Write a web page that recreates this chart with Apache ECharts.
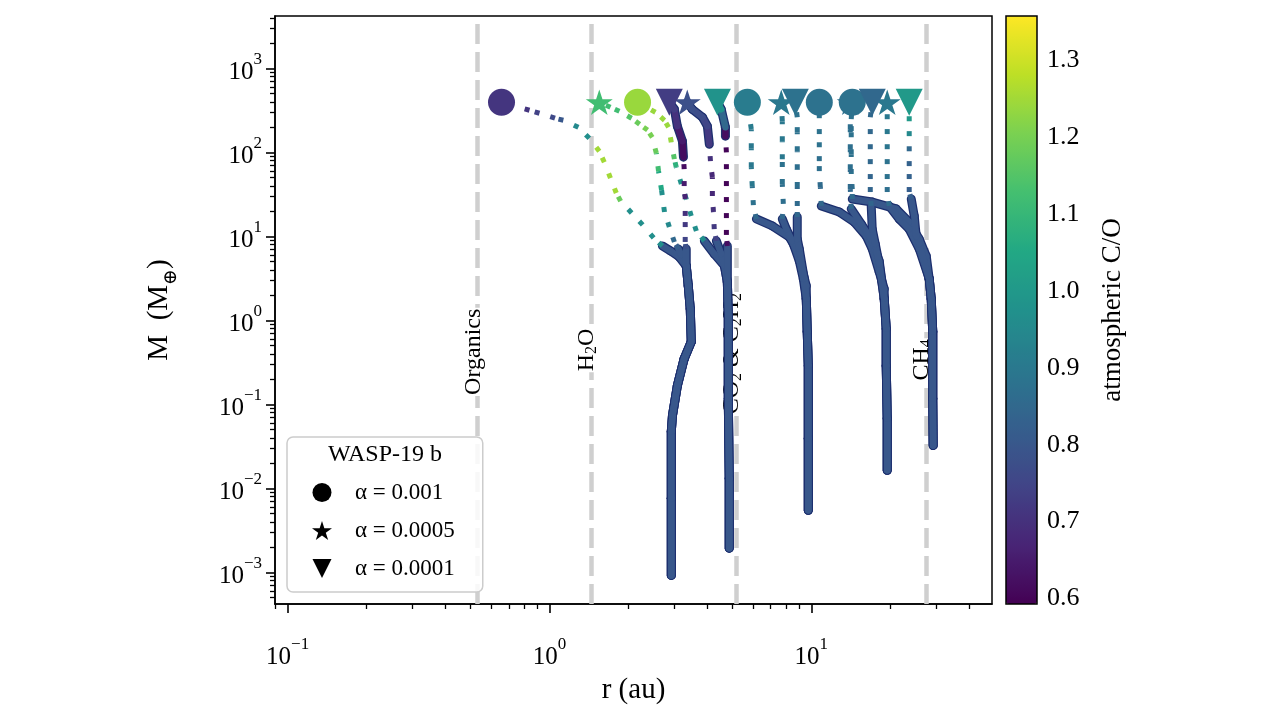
<!DOCTYPE html>
<html>
<head>
<meta charset="utf-8">
<script src="https://cdn.jsdelivr.net/npm/echarts@6/dist/echarts.min.js"></script>
<style>
  html, body { margin: 0; padding: 0; background: #fff; }
  #chart { width: 1280px; height: 720px; }
</style>
</head>
<body>
<div id="chart"></div>
<script>
  // rows: [r (au), M (M_earth), atmospheric C/O, phase]  phase 1 = thick solid, 0 = dotted
  const trunkA = [[2.92, 0.00092, 0.8, 1], [2.92, 0.0076, 0.8, 1], [2.92, 0.0475, 0.8, 1], [2.95, 0.0736, 0.8, 1],
    [3.08, 0.167, 0.8, 1], [3.27, 0.35, 0.8, 1], [3.48, 0.557, 0.8, 1], [3.45, 1.37, 0.8, 1], [3.39, 2.58, 0.8, 1]];
  const trunkB = [[4.86, 0.00194, 0.8, 1], [4.86, 0.0131, 0.8, 1], [4.82, 0.117, 0.8, 1], [4.82, 1.13, 0.8, 1], [4.78, 2.87, 0.8, 1]];
  const trunkC = [[9.74, 0.00548, 0.8, 1], [9.74, 0.0392, 0.8, 1], [9.74, 0.289, 0.8, 1], [9.65, 0.733, 0.8, 1], [9.57, 1.81, 0.8, 1]];
  const trunkD = [[19.5, 0.0164, 0.8, 1], [19.5, 0.0678, 0.8, 1], [19.33, 0.289, 0.8, 1], [19.33, 0.795, 0.8, 1], [18.99, 1.81, 0.8, 1]];
  const trunkE = [[29.21, 0.0324, 0.8, 1], [29.1, 0.117, 0.8, 1], [29.1, 0.733, 0.8, 1], [28.71, 1.81, 0.8, 1], [28.21, 3.12, 0.8, 1]];

  // alpha = 0.001
  const circleA = [[3.33, 4.45, 0.8, 1], [3.13, 5.69, 0.8, 1], [2.90, 6.71, 0.8, 1], [2.70, 7.69, 0.8, 1],
    [2.50, 9.58, 0.97, 0], [2.27, 13.7, 0.97, 0], [2.06, 19.0, 0.97, 0], [1.87, 26.3, 0.97, 0], [1.80, 32.8, 1.18, 0],
    [1.71, 49.4, 1.25, 0], [1.62, 76.4, 1.25, 0], [1.55, 103, 1.25, 0], [1.42, 147, 1.25, 0], [1.29, 199, 0.97, 0],
    [1.13, 241, 0.95, 0], [1.05, 255, 0.8, 0], [0.916, 292, 0.76, 0], [0.839, 317, 0.74, 0], [0.656, 395, 0.71, 0]];
  const circleB = [[4.66, 4.45, 0.8, 1], [4.26, 6.18, 0.8, 1], [3.905, 8.82, 0.8, 1],
    [3.64, 11.6, 0.97, 0], [3.48, 17.5, 0.97, 0], [3.33, 27.8, 0.97, 0], [3.19, 41.9, 0.97, 0], [3.05, 66.7, 0.98, 0],
    [3.00, 83.0, 1.08, 0], [2.92, 132, 1.15, 0], [2.85, 199, 1.24, 0], [2.75, 241, 1.24, 0], [2.54, 300, 1.24, 0], [2.17, 395, 1.24, 0]];
  const circleC = [[9.57, 2.58, 0.8, 1], [9.16, 4.45, 0.8, 1], [8.76, 7.08, 0.8, 1], [8.24, 9.84, 0.8, 1], [7.10, 13.3, 0.8, 1], [6.17, 16.1, 0.8, 1],
    [6.01, 23.6, 0.85, 0], [5.95, 39.7, 0.88, 0], [5.90, 66.7, 0.9, 0], [5.90, 112, 0.9, 0], [5.90, 189, 0.9, 0], [5.70, 395, 0.91, 0]];
  const circleD = [[18.99, 2.37, 0.8, 1], [18.17, 3.78, 0.8, 1], [17.09, 7.08, 0.8, 1], [16.21, 10.1, 0.8, 1], [14.59, 14.8, 0.8, 1],
    [12.79, 19.5, 0.8, 1], [10.92, 23.0, 0.8, 1],
    [10.83, 38.6, 0.85, 0], [10.73, 59.8, 0.86, 0], [10.73, 78.6, 0.87, 0], [10.73, 115, 0.87, 0], [10.73, 165, 0.88, 0],
    [10.73, 255, 0.88, 0], [10.73, 395, 0.88, 0]];
  const circleE = [[27.48, 5.85, 0.8, 1], [25.84, 9.31, 0.8, 1], [23.66, 14.8, 0.8, 1], [21.10, 21.2, 0.8, 1], [17.09, 25.6, 0.8, 1], [14.34, 27.8, 0.8, 1],
    [14.34, 36.5, 0.86, 0], [14.21, 55.1, 0.87, 0], [14.21, 95.2, 0.88, 0], [14.21, 179, 0.88, 0], [14.21, 248, 0.88, 0], [14.34, 395, 0.88, 0]];

  // alpha = 0.0005
  const starA = [[3.33, 4.45, 0.8, 1], [3.19, 6.01, 0.8, 1], [3.11, 7.08, 0.8, 1],
    [3.00, 8.58, 0.82, 0], [2.87, 12.9, 0.85, 0], [2.75, 19.5, 0.95, 0], [2.68, 35.6, 0.97, 0], [2.61, 59.8, 1.05, 0],
    [2.56, 97.8, 1.12, 0], [2.47, 151, 1.18, 0], [2.37, 184, 1.2, 0], [2.21, 216, 1.2, 0], [2.06, 255, 1.18, 0],
    [1.85, 308, 1.15, 0], [1.71, 344, 1.12, 0], [1.55, 395, 1.12, 0]];
  const starB = [[4.66, 4.45, 0.8, 1], [4.53, 6.18, 0.8, 1], [4.34, 8.82, 0.8, 1],
    [4.26, 12.2, 0.74, 0], [4.23, 19.5, 0.72, 0], [4.19, 30.2, 0.7, 0], [4.19, 50.7, 0.68, 0], [4.12, 78.6, 0.68, 0], [4.08, 125, 0.7, 0],
    [4.01, 205, 0.72, 1], [3.84, 262, 0.75, 1], [3.51, 326, 0.77, 1], [3.36, 395, 0.78, 1]];
  const starC = [[9.32, 3.12, 0.8, 1], [9.00, 5.10, 0.8, 1], [8.46, 8.82, 0.8, 1], [8.03, 12.2, 0.8, 1], [7.75, 16.1, 0.8, 1],
    [7.82, 24.3, 0.85, 0], [7.75, 41.9, 0.87, 0], [7.75, 83.0, 0.88, 0], [7.75, 136, 0.9, 0], [7.75, 235, 0.9, 0], [7.68, 395, 0.9, 0]];
  const starD = [[18.17, 5.10, 0.8, 1], [16.94, 9.31, 0.8, 1], [15.52, 14.0, 0.8, 1], [14.21, 21.2, 0.8, 1],
    [14.09, 36.5, 0.85, 0], [14.09, 63.1, 0.86, 0], [14.09, 109, 0.87, 0], [14.09, 189, 0.87, 0], [14.09, 395, 0.87, 0]];
  const starE = [[25.84, 7.08, 0.8, 1], [23.66, 12.2, 0.8, 1], [21.67, 16.1, 0.8, 1], [19.85, 23.0, 0.8, 1],
    [19.50, 33.7, 0.86, 0], [19.50, 48.1, 0.87, 0], [19.50, 72.4, 0.88, 0], [19.50, 109, 0.88, 0], [19.50, 165, 0.89, 0],
    [19.50, 248, 0.9, 0], [19.50, 395, 0.9, 0]];

  // alpha = 0.0001
  const triA = [[3.33, 4.45, 0.8, 1], [3.33, 7.08, 0.8, 1],
    [3.30, 8.58, 0.78, 0], [3.30, 12.9, 0.75, 0], [3.30, 17.5, 0.72, 0], [3.30, 27.8, 0.7, 0], [3.27, 39.7, 0.67, 0],
    [3.27, 63.1, 0.65, 0], [3.25, 87.7, 0.62, 0],
    [3.22, 136, 0.62, 1], [3.08, 205, 0.65, 1], [3.00, 326, 0.7, 1], [2.87, 395, 0.73, 1]];
  const triB = [[4.78, 7.69, 0.8, 1],
    [4.74, 10.4, 0.62, 0], [4.74, 16.5, 0.6, 0], [4.74, 25.6, 0.6, 0], [4.74, 39.7, 0.6, 0], [4.74, 63.1, 0.6, 0],
    [4.74, 100, 0.6, 0], [4.70, 156, 0.6, 0],
    [4.70, 199, 0.62, 1], [4.53, 326, 0.85, 1], [4.38, 395, 0.98, 1]];
  const triC = [[9.40, 3.12, 0.8, 1], [9.00, 7.08, 0.8, 1], [8.84, 9.31, 0.8, 1], [8.84, 17.0, 0.8, 1],
    [8.84, 23.0, 0.85, 0], [8.84, 38.6, 0.86, 0], [8.84, 63.1, 0.87, 0], [8.84, 103, 0.87, 0], [8.84, 174, 0.88, 0],
    [8.84, 262, 0.88, 0], [8.69, 395, 0.88, 0]];
  const triD = [[18.17, 4.70, 0.8, 1], [17.55, 8.12, 0.8, 1], [17.09, 12.2, 0.8, 1], [16.94, 23.0, 0.8, 1],
    [16.80, 33.7, 0.84, 0], [16.80, 48.1, 0.84, 0], [16.80, 72.4, 0.84, 0], [16.80, 109, 0.85, 0], [16.80, 165, 0.85, 0],
    [16.80, 262, 0.85, 0], [17.09, 395, 0.85, 0]];
  const triE = [[25.84, 8.12, 0.8, 1], [25.16, 10.1, 0.8, 1], [24.73, 17.5, 0.8, 1], [24.09, 27.8, 0.8, 1],
    [23.66, 33.7, 0.82, 0], [23.66, 48.1, 0.82, 0], [23.66, 68.6, 0.83, 0], [23.66, 103, 0.83, 0], [23.66, 156, 0.85, 0],
    [23.66, 235, 0.95, 0], [23.66, 395, 1.0, 0]];

  const alphaNames = ['α = 0.001', 'α = 0.0005', 'α = 0.0001'];

  // snow lines
  const lineR = [0.532, 1.443, 5.16, 27.4];
  const lineLabels = ['{n|Organics}', '{n|H}{s|2}{n|O}', '{n|CO}{s|2}{n| & C}{s|2}{n|H}{s|2}', '{n|CH}{s|4}'];
  const lineLabelM = [0.4, 0.42, 0.38, 0.32];

  const majorX = [0.1, 1, 10];
  const majorY = [0.001, 0.01, 0.1, 1, 10, 100, 1000];
  const cbTicks = [0.6, 0.7, 0.8, 0.9, 1.0, 1.1, 1.2, 1.3];

  const minorX = [], minorY = [];
  for (let e = -2; e <= 1; e++) {
    for (let k = 2; k <= 9; k++) {
      const v = k * Math.pow(10, e);
      if (v > 0.0895 && v < 49) minorX.push(v);
    }
  }
  for (let e = -4; e <= 3; e++) {
    for (let k = 2; k <= 9; k++) {
      const v = k * Math.pow(10, e);
      if (v > 4.2e-4 && v < 4200) minorY.push(v);
    }
  }

  const viridis = ['#440154', '#482475', '#414487', '#355f8d', '#2a788e', '#21918c',
    '#22a884', '#44bf70', '#7ad151', '#bddf26', '#fde725'];

  const circleTracks = [trunkA.concat(circleA), trunkB.concat(circleB), trunkC.concat(circleC), trunkD.concat(circleD), trunkE.concat(circleE)];
  const starTracks = [trunkA.concat(starA), trunkB.concat(starB), trunkC.concat(starC), trunkD.concat(starD), trunkE.concat(starE)];
  const triTracks = [trunkA.concat(triA), trunkB.concat(triB), trunkC.concat(triC), trunkD.concat(triD), trunkE.concat(triE)];

  const segData = [];
  let trackId = 0;
  [circleTracks, starTracks, triTracks].forEach(function (group) {
    group.forEach(function (t) {
      t.forEach(function (p) { segData.push([p[0], p[1], p[2], trackId, p[3]]); });
      trackId++;
    });
  });
  const lastPoints = g => g.map(t => t[t.length - 1].slice(0, 3));

  const FONT = "'Liberation Serif', 'DejaVu Serif', serif";
  const STAR = 'path://M50,2 L61.2,36.6 L97.6,36.5 L68.1,57.9 L79.4,92.5 L50,71 L20.6,92.5 L31.9,57.9 L2.4,36.5 L38.8,36.6 Z';
  const TRI_DOWN = 'path://M0,0 L100,0 L50,100 Z';

  function powLabel(v) {
    const e = Math.round(Math.log10(v));
    return '{b|10}{s|' + (e < 0 ? '−' + (-e) : e) + '}';
  }
  const powRich = {
    b: { fontSize: 25, lineHeight: 34, verticalAlign: 'bottom', fontFamily: FONT, color: '#000' },
    s: { fontSize: 17, lineHeight: 17, verticalAlign: 'top', fontFamily: FONT, color: '#000' }
  };

  function trackPiece(kind) {
    return function (params, api) {
      const i = params.dataIndexInside;
      if (i === 0 || api.value(3, i - 1) !== api.value(3, i)) return null;
      const solid = api.value(4, i) === 1;
      if (kind === 'under' && !solid) return null;
      const a = api.coord([api.value(0, i - 1), api.value(1, i - 1)]);
      const b = api.coord([api.value(0, i), api.value(1, i)]);
      const shape = { x1: a[0], y1: a[1], x2: b[0], y2: b[1] };
      if (kind === 'under') {
        return { type: 'line', shape: shape, style: { stroke: '#1c2f6e', lineWidth: 9, lineCap: 'round' } };
      }
      return {
        type: 'line', shape: shape,
        style: solid
          ? { stroke: api.visual('color'), lineWidth: 6.5, lineCap: 'round' }
          : { stroke: api.visual('color'), lineWidth: 5, lineDash: [5, 12], lineCap: 'butt' }
      };
    };
  }

  const chart = echarts.init(document.getElementById('chart'));
  const option = {
    animation: false,
    backgroundColor: '#fff',
    textStyle: { fontFamily: FONT, color: '#000' },
    title: {
      text: 'WASP-19 b', left: 328, top: 443, padding: 0,
      textStyle: { fontFamily: FONT, fontSize: 24, fontWeight: 'normal', color: '#000' }
    },
    legend: {
      orient: 'vertical', left: 287, top: 437, selectedMode: false,
      padding: [44, 28, 12, 25], itemWidth: 56, itemHeight: 19, itemGap: 15,
      backgroundColor: 'rgba(255,255,255,0.85)', borderColor: '#cccccc', borderWidth: 1.5, borderRadius: 6,
      textStyle: { fontFamily: FONT, fontSize: 23, color: '#000' },
      data: [
        { name: alphaNames[0], icon: 'circle', itemStyle: { color: '#000', opacity: 1 } },
        { name: alphaNames[1], icon: STAR, itemStyle: { color: '#000', opacity: 1 } },
        { name: alphaNames[2], icon: TRI_DOWN, itemStyle: { color: '#000', opacity: 1 } }
      ]
    },
    grid: [
      { left: 275, top: 16, width: 717, height: 588, show: true, borderColor: '#000', borderWidth: 1.5, backgroundColor: 'transparent' },
      { left: 1006, top: 16, width: 31, height: 588, show: true, borderColor: '#000', borderWidth: 1.5, backgroundColor: 'transparent', z: 5 }
    ],
    visualMap: {
      type: 'continuous', min: 0.593, max: 1.357, dimension: 2, seriesIndex: [3, 4, 5, 6],
      orient: 'vertical', left: 1006, top: 16, itemWidth: 31, itemHeight: 588, padding: 0,
      calculable: false, hoverLink: false, text: null, inRange: { color: viridis }
    },
    xAxis: [
      {
        type: 'log', gridIndex: 0, min: 0.0895, max: 49, position: 'bottom',
        name: 'r (au)', nameLocation: 'middle', nameGap: 72,
        nameTextStyle: { fontFamily: FONT, fontSize: 29, color: '#000' },
        axisLine: { lineStyle: { color: '#000', width: 1.5 } },
        axisTick: { customValues: majorX, length: 9, lineStyle: { color: '#000', width: 1.6 } },
        axisLabel: { customValues: majorX, formatter: powLabel, rich: powRich, margin: 32 },
        splitLine: { show: false }, minorTick: { show: false }
      },
      {
        type: 'log', gridIndex: 0, min: 0.0895, max: 49, position: 'bottom',
        axisLine: { show: false },
        axisTick: { customValues: minorX, length: 5, lineStyle: { color: '#000', width: 1.3 } },
        axisLabel: { show: false }, splitLine: { show: false }
      },
      { type: 'value', gridIndex: 1, show: false, min: 0, max: 1 }
    ],
    yAxis: [
      {
        type: 'log', gridIndex: 0, min: 4.2e-4, max: 4200, position: 'left',
        name: '{m|M  (M}{s|⊕}{m|)}', nameLocation: 'middle', nameGap: 94, nameRotate: 90,
        nameTextStyle: {
          rich: {
            m: { fontFamily: FONT, fontSize: 29, lineHeight: 36, verticalAlign: 'top', color: '#000' },
            s: { fontFamily: FONT, fontSize: 19, lineHeight: 19, verticalAlign: 'bottom', color: '#000' }
          }
        },
        axisLine: { lineStyle: { color: '#000', width: 1.5 } },
        axisTick: { customValues: majorY, length: 9, lineStyle: { color: '#000', width: 1.6 } },
        axisLabel: { customValues: majorY, formatter: powLabel, rich: powRich, margin: 13 },
        splitLine: { show: false }
      },
      {
        type: 'log', gridIndex: 0, min: 4.2e-4, max: 4200, position: 'left',
        axisLine: { show: false },
        axisTick: { customValues: minorY, length: 5, lineStyle: { color: '#000', width: 1.3 } },
        axisLabel: { show: false }, splitLine: { show: false }
      },
      {
        type: 'value', gridIndex: 1, min: 0.593, max: 1.357, position: 'right',
        name: 'atmospheric C/O', nameLocation: 'middle', nameGap: 62, nameRotate: 90,
        nameTextStyle: { fontFamily: FONT, fontSize: 27, color: '#000' },
        axisLine: { show: false },
        axisTick: { customValues: cbTicks, length: 7, lineStyle: { color: '#000', width: 1.5 } },
        axisLabel: { customValues: cbTicks, formatter: v => v.toFixed(1), fontFamily: FONT, fontSize: 26, color: '#000', margin: 10 },
        splitLine: { show: false }
      }
    ],
    series: [
      {
        type: 'line', xAxisIndex: 0, yAxisIndex: 0, data: [], z: 1,
        markLine: {
          silent: true, symbol: 'none', label: { show: false }, z: 1,
          lineStyle: { color: '#cfcfcf', width: 4.5, type: [20, 8] },
          data: lineR.map(v => ({ xAxis: v }))
        }
      },
      {
        type: 'scatter', xAxisIndex: 0, yAxisIndex: 0, z: 2, silent: true,
        symbolSize: 1, itemStyle: { color: 'rgba(255,255,255,0)', opacity: 1 },
        data: lineR.map((r, i) => [r, lineLabelM[i]]),
        label: {
          show: true, position: 'inside', rotate: 90, backgroundColor: '#ffffff', padding: [1, 1], opacity: 1,
          offset: [2, -4],
          formatter: p => lineLabels[p.dataIndex],
          rich: {
            n: { fontFamily: FONT, fontSize: 24, lineHeight: 25, color: '#000' },
            s: { fontFamily: FONT, fontSize: 16, lineHeight: 16, verticalAlign: 'bottom', color: '#000' }
          }
        }
      },
      {
        type: 'custom', xAxisIndex: 0, yAxisIndex: 0, z: 3, silent: true,
        dimensions: ['r', 'M', 'co', 'track', 'phase'], encode: { x: 0, y: 1 },
        renderItem: trackPiece('under'), data: segData
      },
      {
        type: 'custom', xAxisIndex: 0, yAxisIndex: 0, z: 4, silent: true,
        dimensions: ['r', 'M', 'co', 'track', 'phase'], encode: { x: 0, y: 1 },
        renderItem: trackPiece('over'), data: segData
      },
      {
        name: alphaNames[1], type: 'scatter', xAxisIndex: 0, yAxisIndex: 0, z: 5,
        symbol: STAR, symbolSize: 27, symbolKeepAspect: true, itemStyle: { opacity: 1 },
        data: lastPoints(starTracks)
      },
      {
        name: alphaNames[0], type: 'scatter', xAxisIndex: 0, yAxisIndex: 0, z: 6,
        symbol: 'circle', symbolSize: 27, itemStyle: { opacity: 1 },
        data: lastPoints(circleTracks)
      },
      {
        name: alphaNames[2], type: 'scatter', xAxisIndex: 0, yAxisIndex: 0, z: 7,
        symbol: TRI_DOWN, symbolSize: 27, symbolKeepAspect: true, itemStyle: { opacity: 1 },
        data: lastPoints(triTracks)
      }
    ]
  };
  chart.setOption(option);
</script>
</body>
</html>
